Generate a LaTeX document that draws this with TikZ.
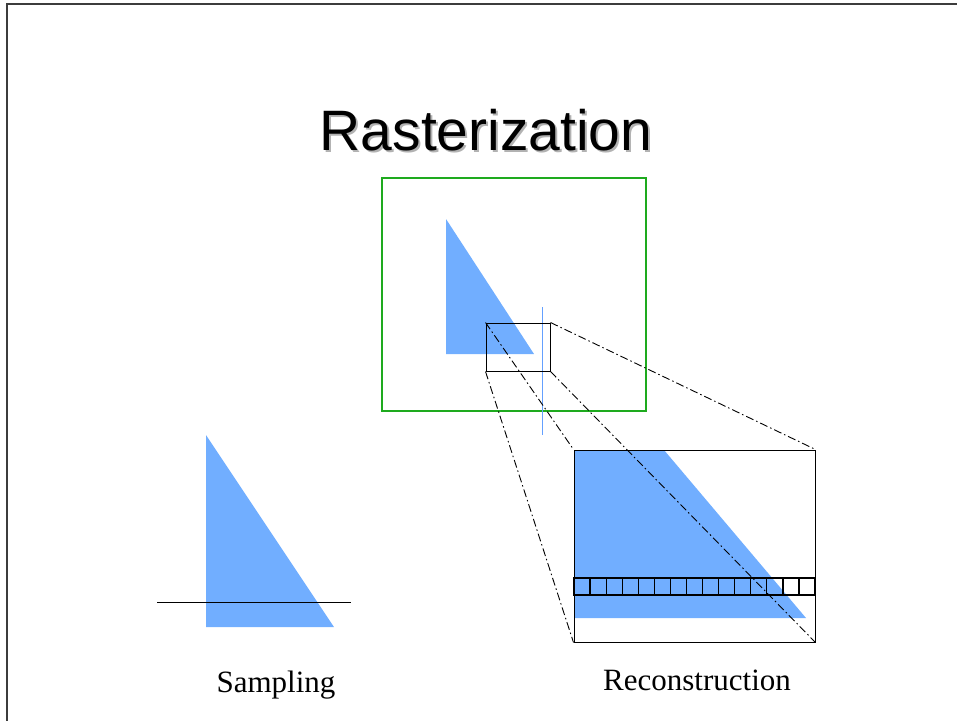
\documentclass[tikz,border=0pt]{standalone}
\usepackage{fontspec}
\setmainfont{Liberation Serif}
\newfontfamily\titlefont{Liberation Sans}
\usetikzlibrary{positioning}
\definecolor{triblue}{RGB}{113,174,255}
\definecolor{lineblue}{RGB}{100,160,255}
\definecolor{boxgreen}{RGB}{30,170,30}
\definecolor{framegray}{RGB}{60,60,60}

\newcommand{\shadowtext}[1]{\makebox[0pt][l]{\hspace{2pt}\raisebox{-2pt}{\textcolor{black!30}{#1}}}#1}

\tikzset{
  zoombox/.style={rectangle, draw=black, line width=1pt, inner sep=0pt},
  zoomline/.style={line width=0.9pt, dash pattern=on 8pt off 3pt on 1.5pt off 3pt},
  caption/.style={font=\fontsize{31}{36}\selectfont, inner sep=0pt, anchor=base}
}

\begin{document}
\begin{tikzpicture}[x=1pt, y=-1pt]
    \useasboundingbox (0,0) rectangle (957,721);

    % Slide frame
    \draw[framegray, line width=1.5pt] (957,4) -- (7,4) -- (7,721);

    % Title with shadow
    \node[font=\titlefont\fontsize{57}{64}\selectfont, inner sep=0pt, anchor=base] (title) at (486,150) {\shadowtext{Rasterization}};

    % Screen window with the triangle
    \node[rectangle, draw=boxgreen, line width=1.3pt, minimum width=264pt, minimum height=233pt, inner sep=0pt] (screen) at (514,294.5) {};
    \fill[triblue] (446,219) -- (446,354) -- (534,354) -- cycle;
    \draw[lineblue, line width=0.8pt] (542,307) -- (542,435);

    % Zoomed region
    \node[zoombox, minimum width=64pt, minimum height=48pt] (zoomsrc) at (518,347) {};

    % Reconstruction: magnified view with a row of pixels
    \fill[triblue] (574,450) -- (664,450) -- (806,618) -- (574,618) -- cycle;
    \foreach \i in {0,...,14}
        \draw[line width=1.2pt] (574+\i*16.07,578) rectangle (574+\i*16.07+16.07,595);
    \node[zoombox, minimum width=241pt, minimum height=192pt] (zoomdst) at (694.5,546) {};

    % Projection lines between the two boxes
    \foreach \c in {north west, north east, south west, south east}
        \draw[zoomline] (zoomsrc.\c) -- (zoomdst.\c);

    % Sampling: triangle cut by a scanline
    \fill[triblue] (206,435) -- (206,627) -- (334,627) -- cycle;
    \coordinate (scanL) at (157,602);
    \coordinate (scanR) at (351,602);
    \draw[line width=1pt] (scanL) -- (scanR);

    % Labels
    \node[caption] (sampling) at (276,692) {Sampling};
    \node[caption] (reconstruction) at (697,690) {Reconstruction};
\end{tikzpicture}
\end{document}
